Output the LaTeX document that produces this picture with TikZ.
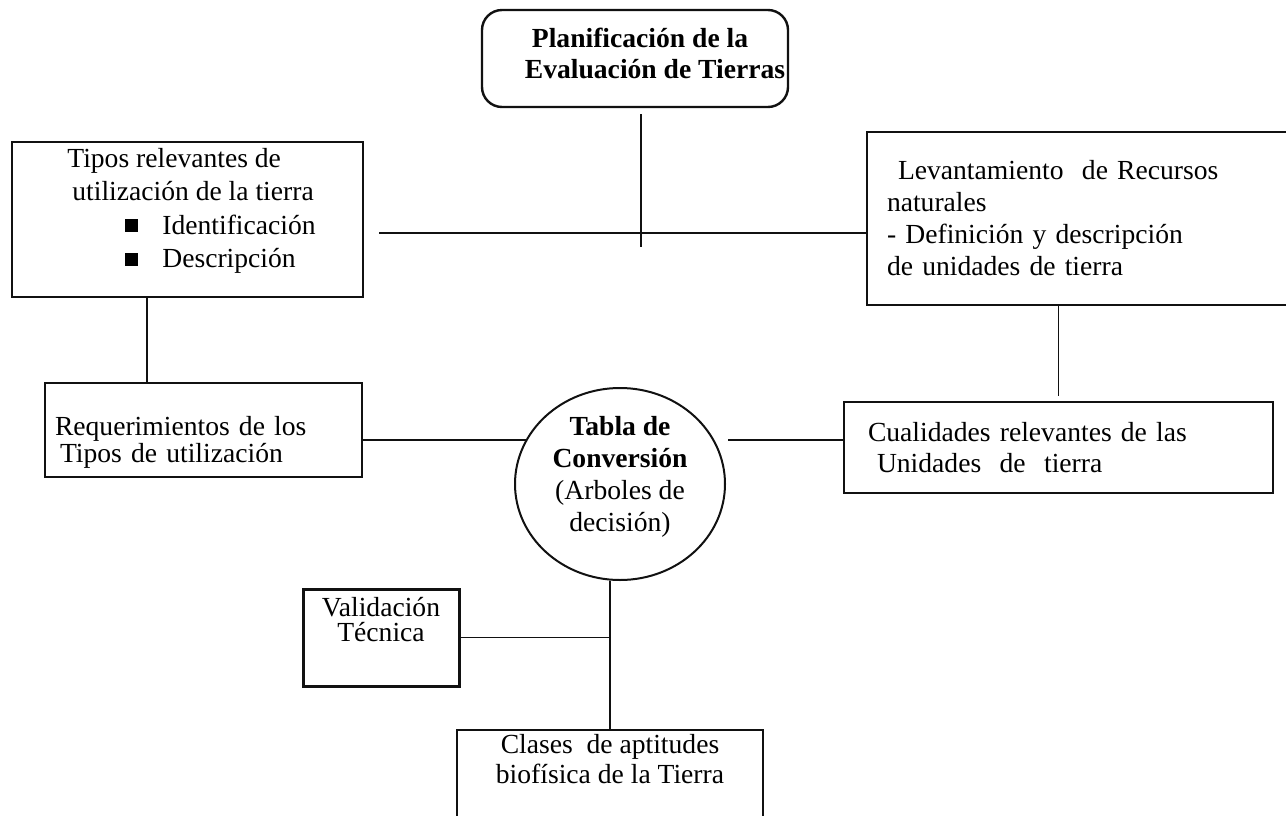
\documentclass[tikz,border=0pt]{standalone}
\usepackage{fontspec}
\setmainfont{Liberation Serif}
\usetikzlibrary{shapes.geometric, calc}
\definecolor{ink}{HTML}{111111}
\newcommand{\sqbul}{\raisebox{1pt}{\rule{6.5pt}{6.5pt}}}
\newcommand{\lowpad}[1]{\rule[-#1]{0pt}{#1}}
\newcommand{\highpad}[1]{\rule{0pt}{#1}}
\tikzset{
  lead/.style     = {font=\fontsize{13.8pt}{#1}\selectfont},
  box/.style      = {rectangle, draw=ink, line width=1pt, inner ysep=1pt, align=left},
  planbox/.style  = {rectangle, rounded corners=10pt, draw=ink, line width=1.2pt,
                      inner xsep=0.5pt, inner ysep=1pt, align=left,
                      font=\bfseries\fontsize{13.8pt}{15.5pt}\selectfont},
  hub/.style      = {ellipse, draw=ink, line width=1pt, inner sep=0pt, align=center,
                      minimum width=105pt, minimum height=96pt},
  link/.style     = {draw=ink, line width=0.8pt},
  thinlink/.style = {draw=ink, line width=0.5pt},
}
\begin{document}
\begin{tikzpicture}[x=0.5pt, y=-0.5pt]
  \useasboundingbox (0,0) rectangle (1286,815);

  % top of the scheme
  \node[planbox, minimum width=153pt, minimum height=48.5pt] (plan) at (635,58.5)
    {\hspace*{23.5pt}Planificación de la\\ \hspace*{20pt}Evaluación de Tierras\lowpad{5.5pt}};

  % land use side
  \node[box, lead=16.8pt, minimum width=175.5pt, minimum height=77.5pt] (tipos) at (187.5,219.5)
    {\hspace*{4pt}Tipos relevantes de\\ \hspace*{6.5pt}utilización de la tierra\\
     \hspace*{33pt}\sqbul\hspace{12pt}Identificación\\
     \hspace*{33pt}\sqbul\hspace{12pt}Descripción\lowpad{11.5pt}};
  \node[box, lead=12.5pt, text width=148.5pt, inner xsep=5pt, minimum height=47pt] (req) at (203.5,430)
    {\highpad{21.5pt}Requerimientos de los\\ \hspace*{2.5pt}Tipos de utilización};

  % land resources side
  \node[box, lead=16pt, text width=199.5pt, inner xsep=10pt, minimum height=86.5pt] (levanta) at (1086.5,218.5)
    {\hspace*{5.5pt}Levantamiento~ de Recursos\\ naturales\\ - Definición y descripción\\ de unidades de tierra};
  \node[box, lead=15.5pt, text width=190.5pt, inner xsep=12pt, minimum height=45.5pt] (cualid) at (1058.5,447.5)
    {Cualidades relevantes de las\\ \hspace*{4.5pt}Unidades~ de~ tierra};

  % conversion
  \node[hub, lead=16pt] (tabla) at (620,484)
    {\textbf{Tabla de}\\ \textbf{Conversión}\\ (Arboles de\\ decisión)\lowpad{10pt}};

  % result
  \node[box, lead=12.5pt, align=center, line width=1.5pt, minimum width=78pt, minimum height=48.5pt] (valid) at (381,637.5)
    {Validación\\ Técnica\lowpad{18.5pt}};
  \node[box, lead=15pt, align=center, minimum width=153pt, minimum height=50pt] (clases) at (610,780)
    {Clases~ de aptitudes\\ biofísica de la Tierra\lowpad{21.5pt}};

  % connectors
  \coordinate (cross) at (641,233);
  \draw[link, shorten <=3pt, shorten >=-7pt] (plan.south -| cross) -- (cross);
  \draw[link, shorten <=7.5pt] (tipos.east |- cross) -- (levanta.west |- cross);
  \draw[link] ([xshift=-20.25pt]tipos.south) -- ([xshift=-20.25pt]tipos.south |- req.north);
  \draw[link] (tabla.155) -- (tabla.155 -| req.east);
  \draw[link, shorten <=7pt] (tabla.25) -- (tabla.25 -| cualid.west);
  \draw[link, shorten >=2.5pt] (levanta.south -| cualid.north) -- (cualid.north);
  \draw[link] (tabla.south -| clases.north) -- (clases.north);
  \draw[thinlink] (valid.east) -- (valid.east -| clases.north);
\end{tikzpicture}
\end{document}
